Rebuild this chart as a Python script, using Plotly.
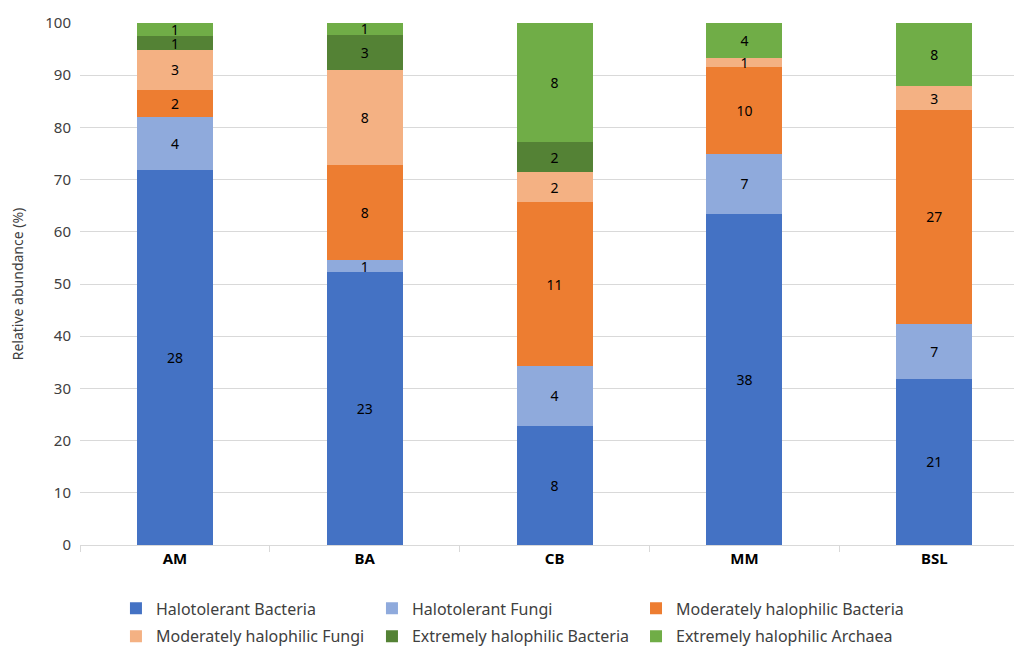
import plotly.graph_objects as go

# Sites and isolate counts per group
sites = ["AM", "BA", "CB", "MM", "BSL"]
halotolerant_bacteria = [28, 23, 8, 38, 21]
halotolerant_fungi = [4, 1, 4, 7, 7]
moderately_halophilic_bacteria = [2, 8, 11, 10, 27]
moderately_halophilic_fungi = [3, 8, 2, 1, 3]
extremely_halophilic_bacteria = [1, 3, 2, 0, 0]
extremely_halophilic_archaea = [1, 1, 8, 4, 8]

groups = [
    ("Halotolerant Bacteria", halotolerant_bacteria, "#4472C4"),
    ("Halotolerant Fungi", halotolerant_fungi, "#8FAADC"),
    ("Moderately halophilic Bacteria", moderately_halophilic_bacteria, "#ED7D31"),
    ("Moderately halophilic Fungi", moderately_halophilic_fungi, "#F4B183"),
    ("Extremely halophilic Bacteria", extremely_halophilic_bacteria, "#548235"),
    ("Extremely halophilic Archaea", extremely_halophilic_archaea, "#70AD47"),
]

totals = [sum(g[1][i] for g in groups) for i in range(len(sites))]

FONT = "Noto Sans"
legend_ids = ["legend", "legend2", "legend3"]

fig = go.Figure()
for k, (name, counts, color) in enumerate(groups):
    pct = [100.0 * c / t for c, t in zip(counts, totals)]
    fig.add_trace(go.Bar(
        name=name,
        x=sites,
        y=pct,
        marker=dict(color=color, line=dict(width=0)),
        text=[str(c) if c > 0 else "" for c in counts],
        textposition="inside",
        insidetextanchor="middle",
        constraintext="none",
        textangle=0,
        textfont=dict(family=FONT, size=14, color="#000000"),
        width=0.4,
        # legend laid out as a 3-column grid: one legend box per column
        legend=legend_ids[k % 3],
        legendgroup=name,
    ))

legend_common = dict(
    orientation="v",
    y=-0.089,
    xanchor="left",
    yanchor="top",
    traceorder="grouped",
    tracegroupgap=4,
    font=dict(family=FONT, size=16, color="#404040"),
    itemwidth=30,
    bgcolor="rgba(0,0,0,0)",
)

fig.update_layout(
    barmode="stack",
    width=1014,
    height=650,
    margin=dict(l=80, r=0, t=23, b=105, autoexpand=False),
    paper_bgcolor="white",
    plot_bgcolor="white",
    font=dict(family=FONT, size=14, color="#404040"),
    showlegend=True,
    legend=dict(legend_common, x=0.0385),
    legend2=dict(legend_common, x=0.3126),
    legend3=dict(legend_common, x=0.5953),
    xaxis=dict(
        range=[-0.5, 4.42],
        showline=True,
        linecolor="#D9D9D9",
        linewidth=1,
        ticks="outside",
        tickson="boundaries",
        ticklen=6,
        tickcolor="#D9D9D9",
        tickfont=dict(family=FONT, size=15, color="#000000", weight="bold"),
        showgrid=False,
    ),
    yaxis=dict(
        range=[0, 100],
        dtick=10,
        showgrid=True,
        gridcolor="#D9D9D9",
        gridwidth=1,
        zeroline=False,
        showline=False,
        ticks="",
        ticklabelstandoff=8,
        tickfont=dict(family=FONT, size=15, color="#404040"),
        title=dict(text="Relative abundance (%)",
                   font=dict(family=FONT, size=14, color="#404040"),
                   standoff=18),
    ),
)

fig.write_html("out.html")
